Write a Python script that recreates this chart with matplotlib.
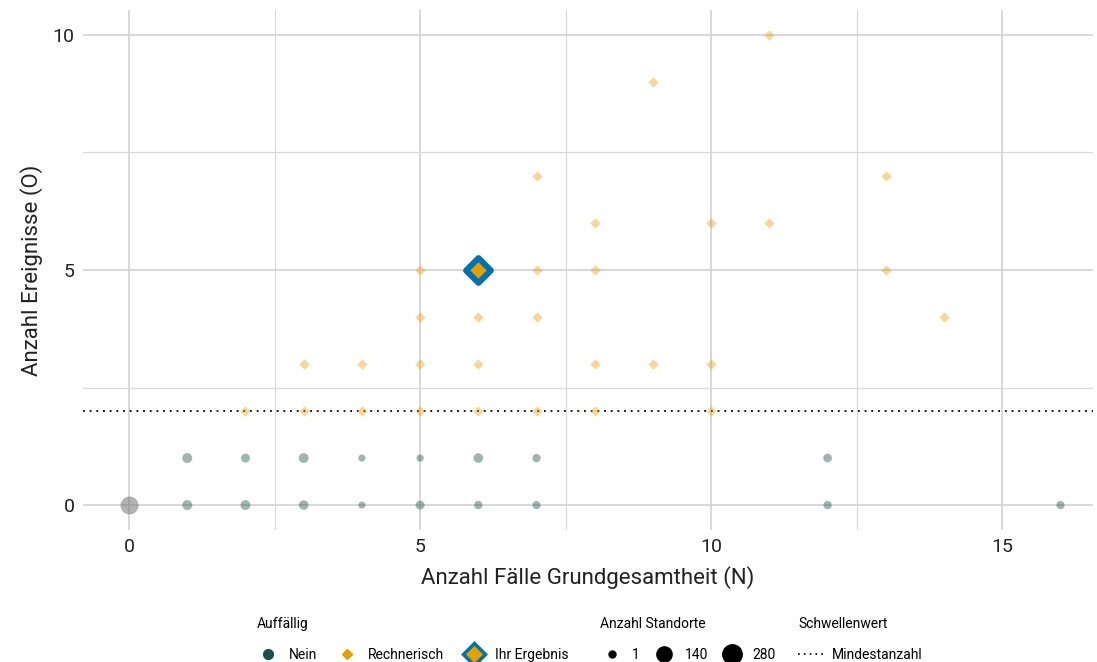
import matplotlib.pyplot as plt
from matplotlib.lines import Line2D
import numpy as np

plt.rcParams['font.family'] = ['Roboto', 'DejaVu Sans']

# Nein (nicht auffaellig): N, O, Anzahl Standorte
nein_n = [1, 1, 2, 2, 3, 3, 4, 4, 5, 5, 6, 6, 7, 7, 12, 12, 16]
nein_o = [1, 0, 1, 0, 1, 0, 1, 0, 1, 0, 1, 0, 1, 0, 1, 0, 0]
nein_cnt = [45, 47, 30, 45, 45, 40, 3, 2, 5, 30, 40, 20, 20, 18, 25, 20, 18]

# Gruppe ohne Faelle (0, 0)
null_n = [0]
null_o = [0]
null_cnt = [247]

# Rechnerisch auffaellig
rech_n = [2, 3, 3, 4, 4, 5, 5, 5, 5, 6, 6, 6, 7, 7, 7, 7,
          8, 8, 8, 8, 9, 9, 10, 10, 10, 11, 11, 13, 13, 14]
rech_o = [2, 3, 2, 3, 2, 5, 4, 3, 2, 4, 3, 2, 7, 5, 4, 2,
          6, 5, 3, 2, 9, 3, 6, 3, 2, 10, 6, 7, 5, 4]

# Ihr Ergebnis
own_n = [6]
own_o = [5]

schwelle = 2
size_breaks = [1, 140, 280]

col_teal = '#1B4F4B'
col_orange = '#E69F00'
col_blue = '#0072B2'
dots = (0, (1, 2.7))


def area(c):
    # area scaling of marker size by number of sites
    return 25 + (187 - 25) * (np.asarray(c) - 1) / 279.0


fig = plt.figure(figsize=(10.97, 6.62), dpi=100)
ax = fig.add_axes([0.0757, 0.1994, 0.9207, 0.7856])

ax.set_xlim(-0.79, 16.56)
ax.set_ylim(-0.53, 10.53)
ax.set_xticks([0, 5, 10, 15])
ax.set_yticks([0, 5, 10])
ax.set_xticks([2.5, 7.5, 12.5], minor=True)
ax.set_yticks([2.5, 7.5], minor=True)
ax.grid(which='major', color='#d2d2d2', lw=1.2)
ax.grid(which='minor', color='#d9d9d9', lw=0.9)
ax.set_axisbelow(True)
for s in ax.spines.values():
    s.set_visible(False)
ax.tick_params(which='both', length=0, labelsize=14, colors='#222222', pad=6)
ax.set_xlabel('Anzahl Fälle Grundgesamtheit (N)', fontsize=16, color='#222222', labelpad=7)
ax.set_ylabel('Anzahl Ereignisse (O)', fontsize=16, color='#222222', labelpad=7)

ax.axhline(schwelle, color='black', lw=1.3, ls=dots, zorder=2)

ax.scatter(null_n, null_o, s=area(null_cnt), color='#808080', alpha=0.6, lw=0, zorder=3)
ax.scatter(nein_n, nein_o, s=area(nein_cnt), color=col_teal, alpha=0.42, lw=0, zorder=3)
ax.scatter(rech_n, rech_o, s=28, marker='D', color=col_orange, alpha=0.4, lw=0, zorder=3)
ax.scatter(own_n, own_o, s=160, marker='D', facecolor=col_orange, edgecolor=col_blue,
           lw=4.3, zorder=4)

# legends
fs = 10
h1 = [Line2D([], [], ls='', marker='o', ms=7, color=col_teal, label='Nein'),
      Line2D([], [], ls='', marker='D', ms=5.5, color=col_orange, label='Rechnerisch'),
      Line2D([], [], ls='', marker='D', ms=11.5, mfc=col_orange, mec=col_blue, mew=2.5,
             label='Ihr Ergebnis')]
h2 = [Line2D([], [], ls='', marker='o', ms=m, color='black', label=str(c))
      for c, m in zip(size_breaks, [5, 11, 14])]
h3 = [Line2D([], [], color='black', lw=1.2, ls=(0, (1, 2.5)), label='Mindestanzahl')]

common = dict(frameon=False, fontsize=fs, title_fontsize=fs, alignment='left',
              handlelength=1.6, handletextpad=0.7, columnspacing=1.1, borderpad=0,
              labelspacing=0.3, loc='upper left')
l1 = fig.legend(handles=h1, title='Auffällig', ncol=3, bbox_to_anchor=(0.228, 0.078),
                **{**common, 'columnspacing': 1.35})
l2 = fig.legend(handles=h2, title='Anzahl Standorte', ncol=3, bbox_to_anchor=(0.541, 0.078),
                **{**common, 'columnspacing': 0.9})
l3 = fig.legend(handles=h3, title='Schwellenwert', ncol=1, bbox_to_anchor=(0.7215, 0.078),
                **{**common, 'handlelength': 1.8, 'handletextpad': 0.6})
for lg in (l1, l2, l3):
    lg._legend_box.sep = 12

fig.savefig('out.png', dpi=100)
